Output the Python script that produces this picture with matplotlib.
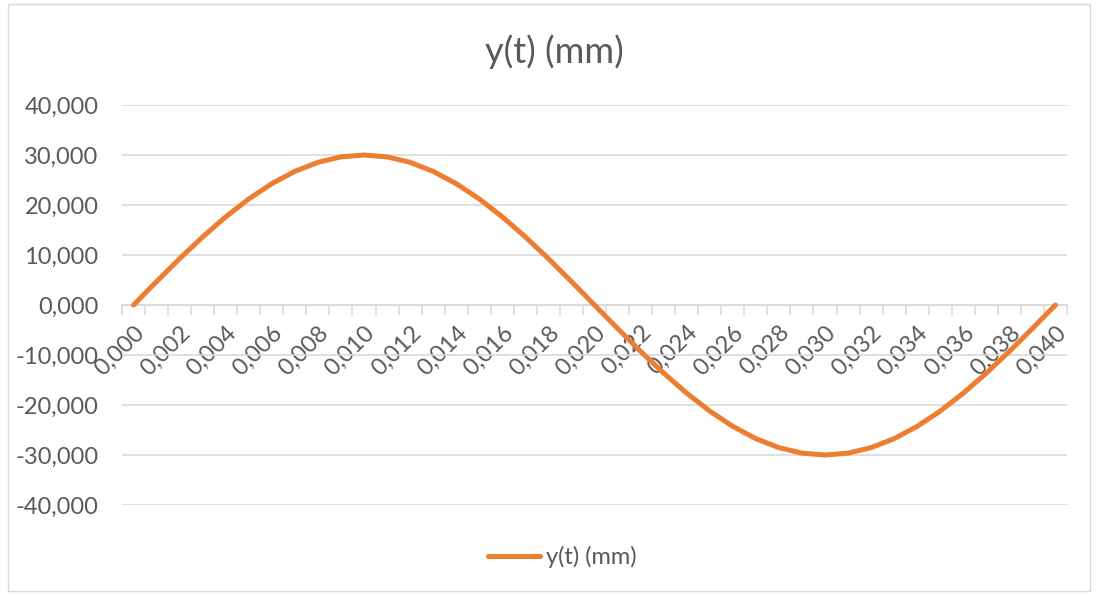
import matplotlib.pyplot as plt
from matplotlib.patches import Rectangle
from matplotlib.ticker import FixedLocator, NullFormatter, FixedFormatter

# time (s), one category per row of the sheet
t = [0.000, 0.001, 0.002, 0.003, 0.004, 0.005, 0.006, 0.007, 0.008, 0.009,
     0.010, 0.011, 0.012, 0.013, 0.014, 0.015, 0.016, 0.017, 0.018, 0.019,
     0.020, 0.021, 0.022, 0.023, 0.024, 0.025, 0.026, 0.027, 0.028, 0.029,
     0.030, 0.031, 0.032, 0.033, 0.034, 0.035, 0.036, 0.037, 0.038, 0.039,
     0.040]
# y(t) in mm
y = [0.00, 4.69, 9.27, 13.62, 17.63, 21.21, 24.27, 26.73, 28.53, 29.63,
     30.00, 29.63, 28.53, 26.73, 24.27, 21.21, 17.63, 13.62, 9.27, 4.69,
     0.00, -4.69, -9.27, -13.62, -17.63, -21.21, -24.27, -26.73, -28.53, -29.63,
     -30.00, -29.63, -28.53, -26.73, -24.27, -21.21, -17.63, -13.62, -9.27, -4.69,
     0.00]
yticks = [-40, -30, -20, -10, 0, 10, 20, 30, 40]
title = "y(t) (mm)"

plt.rcParams['font.family'] = ['Lato', 'DejaVu Sans']
grey = "#595959"
light = "#d9d9d9"
orange = "#ED7D31"
fs = 17

W, H = 1098, 595
fig = plt.figure(figsize=(W / 100, H / 100), dpi=100)
fig.patches.append(Rectangle((8 / W, 4 / H), 1082 / W, 587 / H, transform=fig.transFigure,
                             fill=False, edgecolor=light, lw=1))

ax = fig.add_axes([122 / W, (H - 505) / H, 945 / W, 400 / H])
idx = list(range(len(t)))
ax.plot(idx, y, color=orange, lw=3.6, solid_capstyle='round', label=title, zorder=3)

ax.set_xlim(-0.5, len(t) - 0.5)
ax.set_ylim(-40, 40)
ax.set_yticks(yticks)
ax.set_yticklabels([f"{v:.3f}".replace(".", ",") for v in yticks])
ax.tick_params(axis='y', length=0, pad=17, labelsize=fs, labelcolor=grey)
ax.grid(axis='y', color=light, lw=1.2, zorder=0)
ax.set_axisbelow(True)

for s in ['left', 'right', 'top']:
    ax.spines[s].set_visible(False)
ax.spines['bottom'].set_position(('data', 0))
ax.spines['bottom'].set_color(light)
ax.spines['bottom'].set_linewidth(1.2)

ax.xaxis.set_major_locator(FixedLocator([i - 0.5 for i in range(len(t) + 1)]))
ax.xaxis.set_major_formatter(NullFormatter())
ax.tick_params(axis='x', which='major', length=7, width=1.2, color=light)
lab_pos = idx[::2]
ax.xaxis.set_minor_locator(FixedLocator(lab_pos))
ax.xaxis.set_minor_formatter(FixedFormatter([f"{t[i]:.3f}".replace(".", ",") for i in lab_pos]))
ax.tick_params(axis='x', which='minor', length=0, pad=12, labelsize=fs, labelcolor=grey)
for lbl in ax.xaxis.get_minorticklabels():
    lbl.set_rotation(45)
    lbl.set_ha('right')
    lbl.set_va('top')
    lbl.set_rotation_mode('anchor')

fig.text(0.505, (H - 52) / H, title, ha='center', va='center', fontsize=26, color=grey)
fig.legend(loc='center', bbox_to_anchor=(0.512, (H - 557) / H), frameon=False,
           fontsize=fs, labelcolor=grey, handlelength=2.2, handletextpad=0.25)

fig.savefig("out.png", dpi=100)
